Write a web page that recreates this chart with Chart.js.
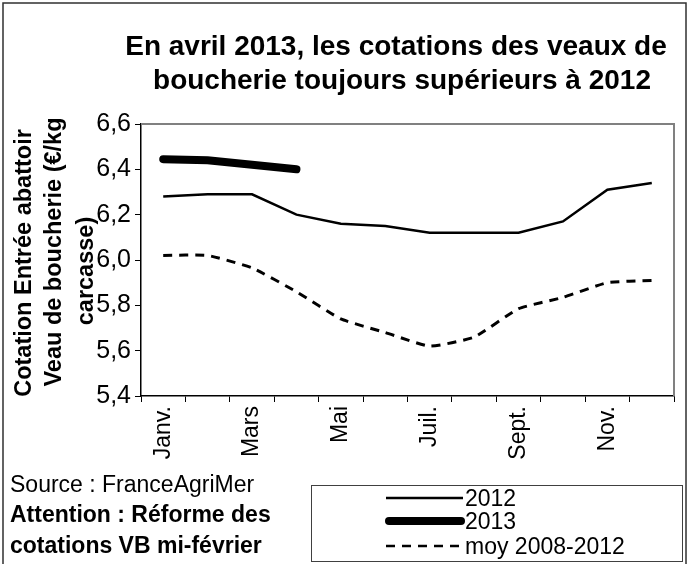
<!DOCTYPE html>
<html>
<head>
<meta charset="utf-8">
<script src="https://cdn.jsdelivr.net/npm/chart.js@4"></script>
<style>
  body { margin: 0; background: #fff; }
  canvas { display: block; }
</style>
</head>
<body>
<canvas id="graphic-veaux" width="689" height="564"></canvas>
<script>
const dataGraphicVeaux = document.getElementById('graphic-veaux');

var mois = ['Janv.', 'Févr.', 'Mars', 'Avr.', 'Mai', 'Juin', 'Juil.', 'Août', 'Sept.', 'Oct.', 'Nov.', 'Déc.'];
var serie2012 = [6.28, 6.29, 6.29, 6.20, 6.16, 6.15, 6.12, 6.12, 6.12, 6.17, 6.31, 6.34];
var serie2013 = [6.445, 6.44, 6.42, 6.40];
var moyenne = [6.02, 6.02, 5.965, 5.86, 5.74, 5.68, 5.62, 5.66, 5.785, 5.835, 5.90, 5.91];
var legendes = ['2012', '2013', 'moy 2008-2012'];

var police = "'Liberation Sans', Arial, sans-serif";

// textes autour du graphique (titre, axe y, source, légende encadrée)
var decor = {
    id: 'decor',
    beforeDatasetsDraw: function (chart) {
        var ctx = chart.ctx;
        var a = chart.chartArea;
        ctx.save();
        ctx.strokeStyle = '#808080';
        ctx.lineWidth = 2;
        ctx.beginPath();
        ctx.moveTo(a.left, a.top);
        ctx.lineTo(a.right, a.top);
        ctx.lineTo(a.right, a.bottom);
        ctx.stroke();
        ctx.restore();
    },
    afterDraw: function (chart) {
        var ctx = chart.ctx;
        ctx.save();

        // cadre extérieur
        ctx.strokeStyle = '#303030';
        ctx.lineWidth = 1.5;
        ctx.strokeRect(3, 3, 683, 570);

        // titre
        ctx.fillStyle = '#000';
        ctx.textAlign = 'center';
        ctx.textBaseline = 'alphabetic';
        ctx.font = 'bold 28px ' + police;
        ctx.fillText('En avril 2013, les cotations des veaux de', 396, 55);
        ctx.fillText('boucherie toujours supérieurs à 2012', 402, 89);

        // titre de l'axe y
        ctx.font = 'bold 23.5px ' + police;
        ctx.textBaseline = 'middle';
        var lignesY = [['Cotation Entrée abattoir', 25, 263], ['Veau de boucherie (€/kg', 55, 252], ['carcasse)', 87, 271]];
        lignesY.forEach(function (l) {
            ctx.save();
            ctx.translate(l[1], l[2]);
            ctx.rotate(-Math.PI / 2);
            ctx.fillText(l[0], 0, 0);
            ctx.restore();
        });

        // source
        ctx.textAlign = 'left';
        ctx.font = '23px ' + police;
        ctx.fillText('Source : FranceAgriMer', 10, 486);
        ctx.font = 'bold 23px ' + police;
        ctx.fillText('Attention : Réforme des', 10, 516);
        ctx.fillText('cotations VB mi-février', 10, 547);

        // légende
        ctx.strokeStyle = '#404040';
        ctx.lineWidth = 1;
        ctx.strokeRect(311.5, 485.5, 371, 76);
        var lignes = [
            { y: 498, width: 2.5, dash: [], cap: 'butt' },
            { y: 521, width: 8, dash: [], cap: 'round' },
            { y: 546, width: 2.5, dash: [9, 7], cap: 'butt' }
        ];
        ctx.font = '23px ' + police;
        lignes.forEach(function (l, i) {
            ctx.strokeStyle = '#000';
            ctx.lineWidth = l.width;
            ctx.setLineDash(l.dash);
            ctx.lineCap = l.cap;
            ctx.beginPath();
            ctx.moveTo(l.cap === 'round' ? 389 : 386, l.y);
            ctx.lineTo(l.cap === 'round' ? 461 : 463, l.y);
            ctx.stroke();
            ctx.setLineDash([]);
            ctx.fillText(legendes[i], 465, l.y + 2);
        });
        ctx.restore();
    }
};

new Chart(dataGraphicVeaux, {
    type: 'line',
    data: {
        labels: mois,
        datasets: [{
            label: legendes[0],
            data: serie2012,
            borderColor: '#000',
            borderWidth: 2.5,
            pointRadius: 0,
            tension: 0
        }, {
            label: legendes[1],
            data: serie2013,
            borderColor: '#000',
            borderWidth: 8,
            borderCapStyle: 'round',
            pointRadius: 0,
            tension: 0
        }, {
            label: legendes[2],
            data: moyenne,
            borderColor: '#000',
            borderWidth: 3,
            borderDash: [9, 7],
            pointRadius: 0,
            tension: 0.15
        }]
    },
    options: {
        responsive: false,
        maintainAspectRatio: false,
        animation: false,
        layout: {
            padding: { top: 124, right: 15, left: 0, bottom: 0 }
        },
        scales: {
            x: {
                offset: true,
                grid: {
                    offset: true,
                    drawOnChartArea: false,
                    drawTicks: true,
                    tickLength: 6,
                    color: '#000'
                },
                border: { color: '#000', width: 1.5 },
                ticks: {
                    autoSkip: false,
                    minRotation: 90,
                    maxRotation: 90,
                    padding: 4,
                    color: '#000',
                    font: { family: police, size: 23 },
                    callback: function (value, index) {
                        return index % 2 === 0 ? mois[index] : '';
                    }
                },
                afterFit: function (scale) {
                    scale.height = 168;
                }
            },
            y: {
                min: 5.4,
                max: 6.6,
                grid: {
                    drawOnChartArea: false,
                    drawTicks: true,
                    tickLength: 6,
                    color: '#000'
                },
                border: { color: '#000', width: 1.5 },
                ticks: {
                    stepSize: 0.2,
                    padding: 4,
                    color: '#000',
                    font: { family: police, size: 25 },
                    callback: function (value) {
                        return value.toFixed(1).replace('.', ',');
                    }
                },
                afterFit: function (scale) {
                    scale.width = 141;
                }
            }
        },
        plugins: {
            legend: { display: false },
            tooltip: { enabled: false }
        }
    },
    plugins: [decor]
});
</script>
</body>
</html>
